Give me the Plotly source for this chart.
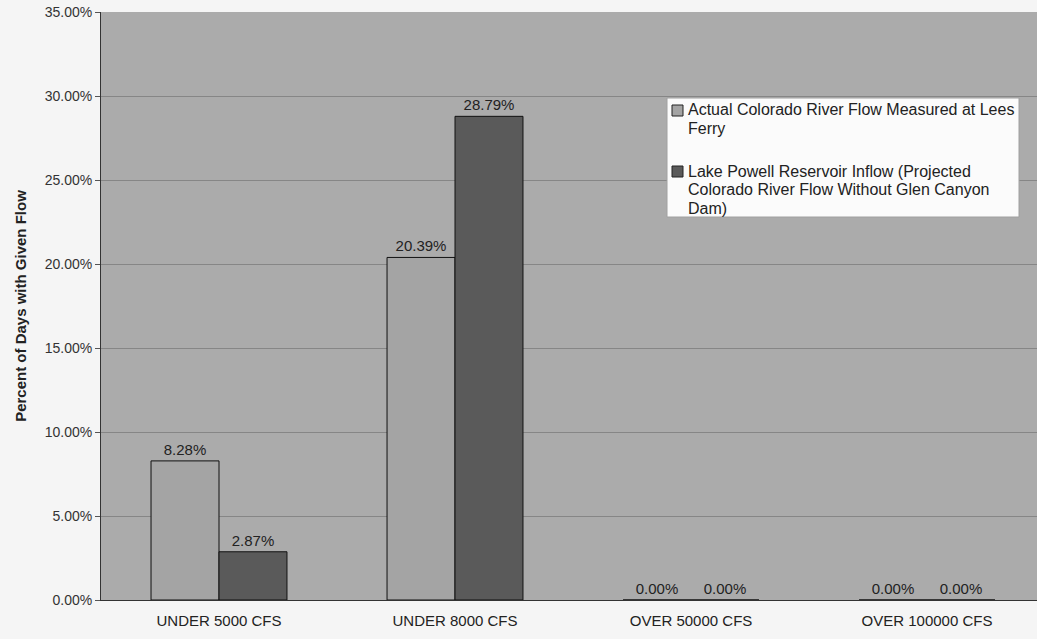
import plotly.graph_objects as go

categories = ["UNDER 5000 CFS", "UNDER 8000 CFS", "OVER 50000 CFS", "OVER 100000 CFS"]
lees_ferry = [8.28, 20.39, 0.00, 0.00]
lake_powell_inflow = [2.87, 28.79, 0.00, 0.00]
legend_lines = [
    ["Actual Colorado River Flow Measured at Lees", "Ferry"],
    ["Lake Powell Reservoir Inflow (Projected",
     "Colorado River Flow Without Glen Canyon", "Dam)"],
]
y_ticks = [0, 5, 10, 15, 20, 25, 30, 35]

FONT = "Liberation Sans, Arial, sans-serif"
LIGHT = "#a4a4a4"
DARK = "#5a5a5a"

W, H = 1037, 639
ML, MR, MT, MB = 101, 0, 12, 39
PW, PH = W - ML - MR, H - MT - MB


def px(x):
    return (x - ML) / PW


def py(y):
    return (H - MB - y) / PH


fig = go.Figure()
for name, vals, color in [
    (" ".join(legend_lines[0]), lees_ferry, LIGHT),
    (" ".join(legend_lines[1]), lake_powell_inflow, DARK),
]:
    fig.add_trace(go.Bar(
        x=categories,
        y=vals,
        name=name,
        marker=dict(color=color, line=dict(color="#111111", width=1)),
        text=[f"{v:.2f}%" for v in vals],
        textposition="outside",
        textfont=dict(family=FONT, size=15, color="#222222"),
        cliponaxis=False,
        showlegend=False,
    ))

# Boxed legend in the upper right of the plot area
shapes = [dict(
    type="rect", xref="paper", yref="paper",
    x0=px(667), x1=px(1019), y0=py(98), y1=py(217),
    fillcolor="#fbfbfb", line=dict(color="#a0a0a0", width=1), layer="above",
)]
annotations = []
entry_tops = [110, 171]
for lines, color, y0 in zip(legend_lines, [LIGHT, DARK], entry_tops):
    shapes.append(dict(
        type="rect", xref="paper", yref="paper",
        x0=px(672), x1=px(683), y0=py(y0 - 5), y1=py(y0 + 6),
        fillcolor=color, line=dict(color="#222222", width=1), layer="above",
    ))
    for i, line in enumerate(lines):
        annotations.append(dict(
            xref="paper", yref="paper", x=px(686), y=py(y0 + 18.5 * i),
            xanchor="left", yanchor="middle", showarrow=False, text=line,
            font=dict(family=FONT, size=16, color="#222222"),
        ))

fig.update_layout(
    width=W,
    height=H,
    margin=dict(l=ML, r=MR, t=MT, b=MB),
    paper_bgcolor="#f5f5f5",
    plot_bgcolor="#ababab",
    barmode="group",
    bargap=0.424,
    bargroupgap=0,
    font=dict(family=FONT, size=15, color="#222222"),
    showlegend=False,
    shapes=shapes,
    annotations=annotations,
    xaxis=dict(
        range=[-0.5, 3.466],
        showline=True, linecolor="#333333", linewidth=1,
        ticks="outside", ticklen=7, tickcolor="rgba(0,0,0,0)", showgrid=False,
        tickfont=dict(family=FONT, size=15, color="#222222"),
    ),
    yaxis=dict(
        range=[0, 35],
        tickvals=y_ticks,
        ticktext=[f"{t:.2f}%" for t in y_ticks],
        showline=True, linecolor="#333333", linewidth=1,
        ticks="outside", ticklen=5, tickcolor="#555555",
        showgrid=True, gridcolor="#868686", gridwidth=1,
        zeroline=False,
        tickfont=dict(family=FONT, size=14, color="#333333"),
        title=dict(
            text="<b>Percent of Days with Given Flow</b>",
            font=dict(family=FONT, size=15, color="#222222"),
            standoff=14,
        ),
    ),
)

fig.write_html("out.html")
